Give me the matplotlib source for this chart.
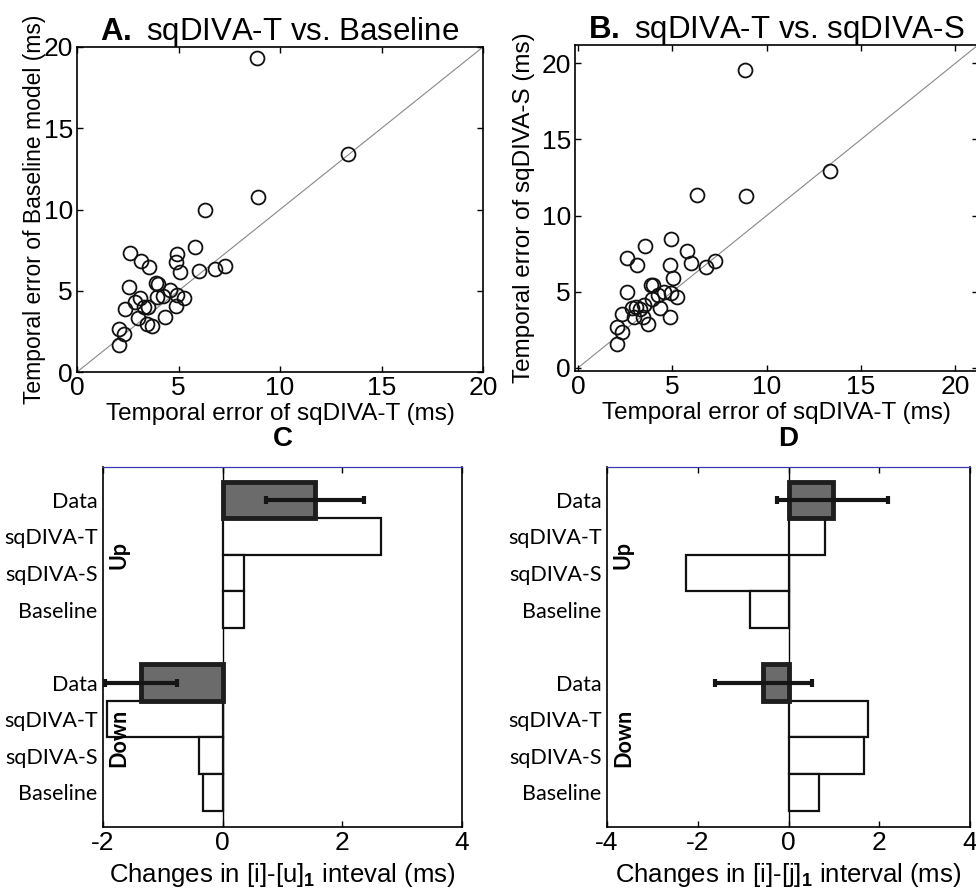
import matplotlib
matplotlib.use("Agg")
import matplotlib.pyplot as plt
import numpy as np

plt.rcParams['font.family'] = ['Liberation Sans', 'DejaVu Sans']
plt.rcParams['axes.unicode_minus'] = False
plt.rcParams['mathtext.fontset'] = 'custom'
plt.rcParams['mathtext.rm'] = 'Liberation Sans'
plt.rcParams['mathtext.bf'] = 'Liberation Sans:bold'

# scatter data: temporal error (ms), x = sqDIVA-T for both panels
err_T = [8.85, 13.35, 8.9, 6.33, 5.8, 2.6, 4.95, 3.15, 4.9, 3.55, 5.05, 6.0,
         6.8, 7.28, 2.58, 3.88, 3.98, 4.58, 4.95, 5.27, 4.25, 3.95, 3.1, 2.85,
         2.35, 3.3, 3.5, 4.9, 3.0, 4.35, 3.44, 3.7, 2.05, 2.33, 2.08]
err_base = [19.3, 13.42, 10.74, 9.98, 7.67, 7.3, 7.26, 6.85, 6.75, 6.48, 6.13, 6.21,
            6.36, 6.52, 5.21, 5.45, 5.41, 5.04, 4.73, 4.57, 4.67, 4.59, 4.53, 4.32,
            3.87, 4.01, 3.97, 4.07, 3.33, 3.40, 2.94, 2.84, 2.67, 2.33, 1.65]
err_S = [19.56, 12.94, 11.27, 11.34, 7.68, 7.24, 8.49, 6.73, 6.78, 8.0, 5.9, 6.91,
         6.64, 7.02, 5.0, 5.44, 5.42, 5.0, 4.93, 4.65, 4.76, 4.5, 3.99, 3.95,
         3.57, 3.88, 4.14, 3.36, 3.33, 3.95, 3.33, 2.89, 2.7, 2.35, 1.58]

# bar data
bar_labels = ['Data', 'sqDIVA-T', 'sqDIVA-S', 'Baseline']
C_up = [1.55, 2.65, 0.35, 0.35]
C_down = [-1.36, -1.93, -0.4, -0.33]
C_err = [0.82, 0.6]   # up, down (Data only)
D_up = [0.97, 0.8, -2.25, -0.85]
D_down = [-0.56, 1.75, 1.67, 0.68]
D_err = [1.23, 1.07]

W, H = 976, 892
fig = plt.figure(figsize=(W / 100, H / 100), dpi=100)


def px(l, t, r, b):
    return [l / W, 1 - b / H, (r - l) / W, (b - t) / H]


def style(ax, size=19):
    ax.tick_params(direction='in', length=4, width=1, labelsize=size,
                   top=True, right=True, pad=3)
    for s in ax.spines.values():
        s.set_linewidth(1.2)


def scatter_panel(ax, x, y, lim, title_bold, title_rest, ylabel, ysize, ypad):
    lo, hi = lim
    ax.plot([0, 30], [0, 30], color='#888888', lw=0.8, zorder=1)
    ax.plot(x, y, 'o', mfc='none', mec='#111111', ms=10, mew=1.3, zorder=2)
    ax.set_xlim(lo[0], hi[0])
    ax.set_ylim(lo[1], hi[1])
    ax.set_xticks([0, 5, 10, 15, 20])
    ax.set_yticks([0, 5, 10, 15, 20])
    style(ax)
    ax.set_xlabel('Temporal error of sqDIVA-T (ms)', fontsize=17.5, labelpad=2)
    ax.set_ylabel(ylabel, fontsize=ysize, labelpad=ypad)
    ax.set_title(r'$\bf{' + title_bold + r'}$ ' + title_rest, fontsize=22.5, pad=5)


axA = fig.add_axes(px(77, 47, 483, 372))
scatter_panel(axA, err_T, err_base, ((0, 0), (20, 20)), 'A.', 'sqDIVA-T vs. Baseline',
              'Temporal error of Baseline model (ms)', 16.5, -2)
axB = fig.add_axes(px(575, 45, 978, 371))
scatter_panel(axB, err_T, err_S, ((-0.15, -0.2), (21.2, 21.2)), 'B.', 'sqDIVA-T vs. sqDIVA-S',
              'Temporal error of sqDIVA-S (ms)', 17.5, 5)


def bar_panel(ax, up, down, errs, xlim, xticks, title, xlabel):
    pos_up = [1, 2, 3, 4]
    pos_down = [6, 7, 8, 9]
    for pos, vals, e in ((pos_up, up, errs[0]), (pos_down, down, errs[1])):
        ax.barh(pos[1:], vals[1:], height=1.0, color='white', edgecolor='#111111',
                lw=1.6, zorder=2)
        ax.barh(pos[0], vals[0], height=1.0, color='#6b6b6b', edgecolor='#1e1e1e',
                lw=3.5, zorder=3)
        ax.errorbar(vals[0], pos[0], xerr=e, fmt='none', ecolor='#151515',
                    elinewidth=3, capsize=3, capthick=3, zorder=4)
    ax.axvline(0, color='black', lw=1, zorder=1)
    ax.set_xlim(*xlim)
    ax.set_ylim(9.95, 0.1)
    ax.set_xticks(xticks)
    ax.set_yticks(pos_up + pos_down)
    style(ax)
    ax.set_yticklabels(bar_labels * 2, family=['Lato', 'DejaVu Sans'], fontsize=15.5)
    ax.tick_params(axis='y', length=0, pad=4)
    ax.spines['top'].set_color('#3a3ab0')
    ax.spines['top'].set_linewidth(0.9)
    ax.set_xlabel(xlabel, fontsize=18.5, labelpad=4)
    ax.set_title(title, fontsize=20, fontweight='bold', pad=15)
    ax.text(0.045, 2.5, 'Up', rotation=90, transform=ax.get_yaxis_transform(),
            ha='center', va='center', family=['Lato', 'DejaVu Sans'],
            fontweight='bold', fontsize=15.5)
    ax.text(0.045, 7.5, 'Down', rotation=90, transform=ax.get_yaxis_transform(),
            ha='center', va='center', family=['Lato', 'DejaVu Sans'],
            fontweight='bold', fontsize=15.5)


axC = fig.add_axes(px(103, 467, 462, 827))
bar_panel(axC, C_up, C_down, C_err, (-2, 4), [-2, 0, 2, 4], 'C',
          r'Changes in [i]-[u]$_{\bf 1}$ inteval (ms)')
axD = fig.add_axes(px(607, 467, 970, 827))
bar_panel(axD, D_up, D_down, D_err, (-4, 4), [-4, -2, 0, 2, 4], 'D',
          r'Changes in [i]-[j]$_{\bf 1}$ interval (ms)')

fig.savefig('out.png', dpi=100)
